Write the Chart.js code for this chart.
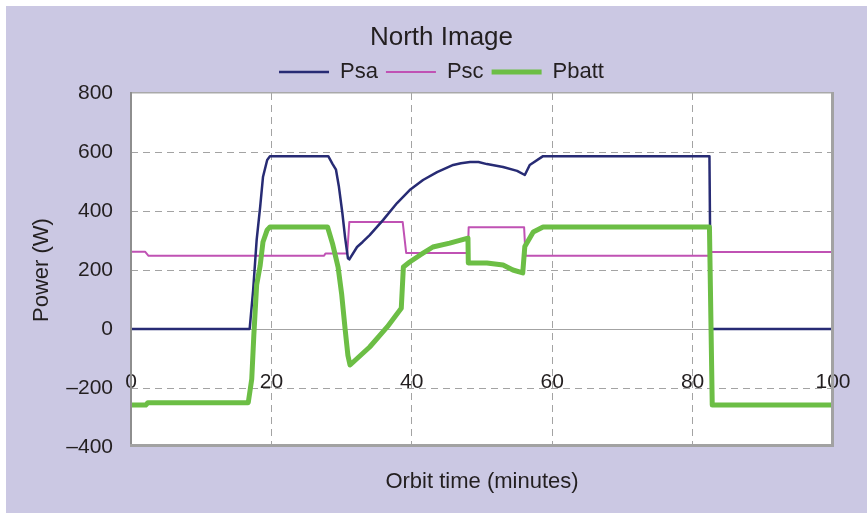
<!DOCTYPE html>
<html><head><meta charset="utf-8">
<script src="https://cdn.jsdelivr.net/npm/chart.js@4"></script>
<style>html,body{margin:0;padding:0;background:#fff}canvas{display:block}</style>
</head><body>
<canvas id="c" width="867" height="513"></canvas>
<script>
// ---- data (orbit time in minutes, power in W) ----
const psaTime  = [0, 16.9, 17.4, 17.9, 18.4, 18.8, 19.4, 19.8, 28.1, 28.7, 29.2, 29.6, 30.1, 30.5, 30.9, 31.1, 32.2, 33.0, 34.0, 35.9, 37.9, 39.7, 41.6, 43.6, 45.9, 47.0, 48.3, 49.5, 50.7, 53.0, 55.0, 56.1, 56.8, 58.7, 82.4, 82.6, 100];
const psaPower = [0, 0, 132, 302, 414, 515, 573, 586, 586, 560, 540, 485, 395, 310, 240, 236, 278, 295, 318, 369, 427, 471, 505, 532, 556, 562, 566, 566, 559, 549, 536, 522, 556, 586, 586, 0, 0];

const pscTime  = [0, 2.0, 2.5, 27.5, 27.7, 30.8, 31.1, 38.7, 39.2, 48.0, 48.1, 56.0, 56.2, 82.5, 82.6, 100];
const pscPower = [262, 262, 248, 248, 256, 256, 363, 363, 258, 258, 345, 345, 248, 248, 261, 261];

const pbattTime  = [0, 2.1, 2.4, 16.7, 17.2, 17.5, 17.9, 18.4, 18.8, 19.4, 19.8, 28.0, 28.7, 29.5, 30.0, 30.5, 30.9, 31.2, 34.0, 36.5, 38.5, 38.8, 39.7, 41.2, 43.0, 45.4, 48.0, 48.05, 50.7, 53.0, 54.4, 55.8, 56.1, 57.3, 58.7, 82.4, 82.8, 100];
const pbattPower = [-258, -258, -250, -250, -170, -20, 150, 215, 295, 336, 346, 346, 290, 210, 120, 0, -90, -122, -61, 7, 70, 210, 227, 251, 278, 291, 308, 224, 224, 217, 200, 190, 280, 329, 346, 346, -258, -258];

const seriesNames = ['Psa', 'Psc', 'Pbatt'];
const xTickValues = [0, 20, 40, 60, 80, 100];
const xTickLabels = ['0', '20', '40', '60', '80', '100'];
const yTickValues = [-400, -200, 0, 200, 400, 600, 800];
const yTickLabels = ['\u2013400', '\u2013200', '0', '200', '400', '600', '800'];

const toPts = (t, v) => t.map((x, i) => ({x: x, y: v[i]}));

const FONT = '"Liberation Sans", Arial, sans-serif';
const TXT = '#231f20';

const bgPlugin = {
  id: 'bgFrame',
  beforeDraw(chart) {
    const {ctx, chartArea: a} = chart;
    ctx.save();
    ctx.fillStyle = '#ffffff';
    ctx.fillRect(0, 0, chart.width, chart.height);
    ctx.fillStyle = '#cbc8e3';
    ctx.fillRect(6, 6, chart.width - 6, chart.height - 6);
    ctx.fillStyle = '#ffffff';
    ctx.fillRect(a.left, a.top, a.right - a.left, a.bottom - a.top);
    ctx.restore();
  },
  afterDatasetsDraw(chart) {
    const {ctx, chartArea: a} = chart;
    ctx.save();
    ctx.fillStyle = '#a9a9a9';
    ctx.fillRect(a.left, a.top - 1, a.right - a.left, 1.5);
    ctx.fillStyle = '#8e8e8e';
    ctx.fillRect(a.left - 1, a.top - 1, 2, a.bottom - a.top + 1);
    ctx.fillStyle = '#a2a2a2';
    ctx.fillRect(a.right - 2, a.top - 1, 3, a.bottom - a.top + 1);
    ctx.fillRect(a.left - 1, a.bottom - 3, a.right - a.left + 2, 3);
    ctx.restore();
  }
};

new Chart(document.getElementById('c'), {
  type: 'line',
  data: {
    datasets: [
      {label: seriesNames[0], data: toPts(psaTime, psaPower), borderColor: '#272b74', backgroundColor: '#272b74', borderWidth: 2.5, order: 1},
      {label: seriesNames[1], data: toPts(pscTime, pscPower), borderColor: '#c052b4', backgroundColor: '#c052b4', borderWidth: 2, order: 2},
      {label: seriesNames[2], data: toPts(pbattTime, pbattPower), borderColor: '#6cbe45', backgroundColor: '#6cbe45', borderWidth: 5, order: 0}
    ]
  },
  options: {
    responsive: false,
    animation: false,
    devicePixelRatio: 1,
    events: [],
    elements: {point: {radius: 0}, line: {tension: 0, borderJoinStyle: 'round', borderCapStyle: 'butt'}},
    layout: {padding: {top: 0, left: 16, right: 0, bottom: 18}},
    plugins: {
      tooltip: {enabled: false},
      title: {
        display: true, text: 'North Image', color: TXT,
        font: {family: FONT, size: 26, weight: 'normal', lineHeight: 1.2},
        padding: {top: 21.8, bottom: 0}
      },
      legend: {
        display: true, position: 'top',
        labels: {
          color: TXT, font: {family: FONT, size: 22},
          usePointStyle: true, pointStyle: 'line', pointStyleWidth: 50,
          padding: 8,
          sort: (a, b) => a.datasetIndex - b.datasetIndex
        }
      }
    },
    scales: {
      x: {
        type: 'linear', position: 'bottom', min: 0, max: 100,
        afterFit: (s) => { s.height = 48; s.paddingLeft = 0; s.paddingRight = 0; },
        afterBuildTicks: (s) => { s.ticks = xTickValues.map(v => ({value: v})); },
        ticks: {
          color: TXT, font: {family: FONT, size: 21}, mirror: true, padding: 52, maxRotation: 0, autoSkip: false,
          callback: (v) => xTickLabels[xTickValues.indexOf(v)]
        },
        grid: {
          drawTicks: false, lineWidth: 1,
          color: (c) => (c.tick && (c.tick.value === 0 || c.tick.value === 100)) ? 'rgba(0,0,0,0)' : '#a3a3a3'
        },
        border: {display: false, dash: [7, 5]},
        title: {display: true, text: 'Orbit time (minutes)', color: TXT, font: {family: FONT, size: 22}, padding: {top: 0, bottom: 0}}
      },
      y: {
        type: 'linear', position: 'left', min: -400, max: 800,
        afterFit: (s) => { s.width = 115; },
        afterBuildTicks: (s) => { s.ticks = yTickValues.map(v => ({value: v})); },
        ticks: {
          color: TXT, font: {family: FONT, size: 21}, padding: 18,
          callback: (v) => yTickLabels[yTickValues.indexOf(v)]
        },
        grid: {
          drawTicks: false, lineWidth: 1,
          color: (c) => (c.tick && (c.tick.value === 800 || c.tick.value === -400)) ? 'rgba(0,0,0,0)' : '#a3a3a3'
        },
        border: {display: false, dash: (c) => (c.tick && c.tick.value === 0) ? [] : [7, 5]},
        title: {display: true, text: 'Power (W)', color: TXT, font: {family: FONT, size: 22}, padding: {top: 12.8, bottom: 0}}
      },
      yRight: {
        type: 'linear', position: 'right', display: true,
        afterFit: (s) => { s.width = 34; },
        ticks: {display: false}, grid: {display: false}, border: {display: false}
      }
    }
  },
  plugins: [bgPlugin]
});
</script>
</body></html>
